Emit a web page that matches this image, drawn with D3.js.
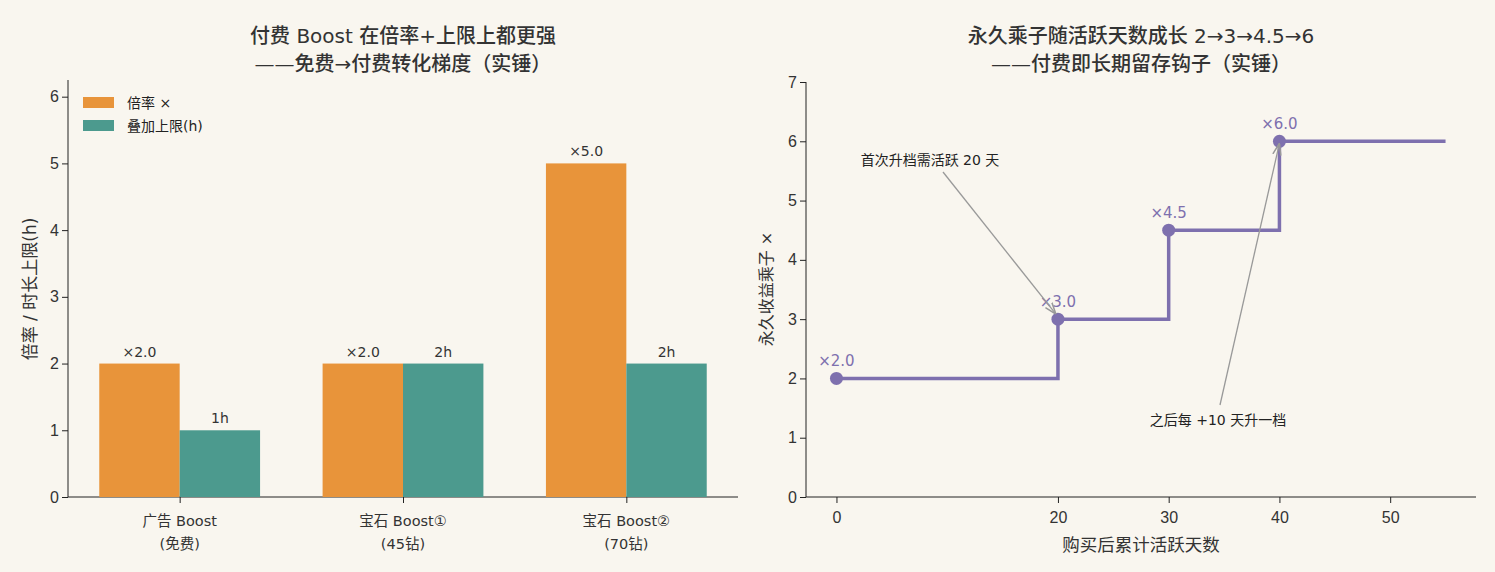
<!DOCTYPE html>
<html>
<head>
<meta charset="utf-8">
<script src="https://cdn.jsdelivr.net/npm/d3@7"></script>
<style>
  body { margin: 0; background: #f9f6ef; }
  svg { display: block; font-family: "DejaVu Sans", "Noto Sans CJK SC", sans-serif; }
  .tick text { font-size: 16px; fill: #333; }
  .tick line, .domain { stroke: #222; }
</style>
</head>
<body>
<div id="chart"></div>
<script>
// left panel data
var boostNames = ["广告 Boost\n(免费)", "宝石 Boost①\n(45钻)", "宝石 Boost②\n(70钻)"];
var multiplier = [2.0, 2.0, 5.0];
var capHours = [1, 2, 2];
var multLabels = ["×2.0", "×2.0", "×5.0"];
var capLabels = ["1h", "2h", "2h"];

// right panel data
var activeDays = [0, 20, 30, 40, 55];
var permMult = [2, 3, 4.5, 6, 6];
var markerDays = [0, 20, 30, 40];
var markerLabels = ["×2.0", "×3.0", "×4.5", "×6.0"];
var dayTicks = [0, 20, 30, 40, 50];

var orange = "#e8943a", teal = "#4c9a8e", purple = "#7e70ae", ink = "#333";

var svg = d3.select("#chart").append("svg")
  .attr("width", 1495).attr("height", 572);

svg.append("rect").attr("width", 1495).attr("height", 572).attr("fill", "#f9f6ef");

// ---------- left chart ----------
var L = {left: 68, right: 738, top: 80, bottom: 497};
var idx = d3.range(boostNames.length);
var xL = d3.scaleLinear().domain([-0.5, 2.5]).range([L.left, L.right]);
var yL = d3.scaleLinear().domain([0, 6.25]).range([L.bottom, L.top]);
var bw = 0.36;

var gL = svg.append("g");

gL.append("g").attr("transform", `translate(0,${L.bottom})`)
  .call(d3.axisBottom(xL).tickValues(idx).tickFormat("").tickSizeOuter(0))
  .call(g => g.select(".domain").attr("d", `M${L.left},0H${L.right}`));
gL.append("g").attr("transform", `translate(${L.left},0)`)
  .call(d3.axisLeft(yL).ticks(6).tickSizeOuter(0))
  .call(g => g.select(".domain").attr("d", `M0,${L.top}V${L.bottom}`));

// category labels, two lines
idx.forEach(function(i) {
  var t = gL.append("text").attr("text-anchor", "middle")
    .attr("font-size", 14.5).attr("fill", ink);
  boostNames[i].split("\n").forEach(function(s, k) {
    t.append("tspan").attr("x", xL(i)).attr("y", 526 + k * 23).text(s);
  });
});

gL.selectAll(".barM").data(idx).enter().append("rect")
  .attr("x", i => xL(i - bw))
  .attr("y", i => yL(multiplier[i]))
  .attr("width", xL(bw) - xL(0))
  .attr("height", i => yL(0) - yL(multiplier[i]))
  .attr("fill", orange);

gL.selectAll(".barC").data(idx).enter().append("rect")
  .attr("x", i => xL(i))
  .attr("y", i => yL(capHours[i]))
  .attr("width", xL(bw) - xL(0))
  .attr("height", i => yL(0) - yL(capHours[i]))
  .attr("fill", teal);

gL.selectAll(".lblM").data(idx).enter().append("text")
  .attr("x", i => xL(i - bw / 2)).attr("y", i => yL(multiplier[i]) - 7)
  .attr("text-anchor", "middle").attr("font-size", 14).attr("fill", ink)
  .text(i => multLabels[i]);
gL.selectAll(".lblC").data(idx).enter().append("text")
  .attr("x", i => xL(i + bw / 2)).attr("y", i => yL(capHours[i]) - 7)
  .attr("text-anchor", "middle").attr("font-size", 14).attr("fill", ink)
  .text(i => capLabels[i]);

// legend
[["倍率 ×", orange], ["叠加上限(h)", teal]].forEach(function(d, k) {
  gL.append("rect").attr("x", 83).attr("y", 97 + k * 23).attr("width", 31).attr("height", 11).attr("fill", d[1]);
  gL.append("text").attr("x", 127).attr("y", 108 + k * 23).attr("font-size", 14).attr("fill", "#222").text(d[0]);
});

gL.append("text").attr("transform", "translate(36,289) rotate(-90)")
  .attr("text-anchor", "middle").attr("font-size", 17).attr("fill", ink)
  .text("倍率 / 时长上限(h)");

gL.append("text").attr("x", 403).attr("y", 43).attr("text-anchor", "middle")
  .attr("font-size", 20).attr("font-weight", 500).attr("fill", ink)
  .text("付费 Boost 在倍率+上限上都更强");
gL.append("text").attr("x", 403).attr("y", 71).attr("text-anchor", "middle")
  .attr("font-size", 20).attr("font-weight", 500).attr("fill", ink)
  .text("——免费→付费转化梯度（实锤）");

// ---------- right chart ----------
var R = {left: 806, right: 1476, top: 82, bottom: 497};
var xR = d3.scaleLinear().domain([-2.75, 57.75]).range([R.left, R.right]);
var yR = d3.scaleLinear().domain([0, 7]).range([R.bottom, R.top]);

var gR = svg.append("g");
gR.append("g").attr("transform", `translate(0,${R.bottom})`)
  .call(d3.axisBottom(xR).tickValues(dayTicks).tickSizeOuter(0).tickPadding(9))
  .call(g => g.select(".domain").attr("d", `M${R.left},0H${R.right}`));
gR.append("g").attr("transform", `translate(${R.left},0)`)
  .call(d3.axisLeft(yR).ticks(7).tickSizeOuter(0))
  .call(g => g.select(".domain").attr("d", `M0,${R.top}V${R.bottom}`));

var pts = activeDays.map((d, i) => [d, permMult[i]]);
gR.append("path").datum(pts)
  .attr("d", d3.line().x(d => xR(d[0])).y(d => yR(d[1])).curve(d3.curveStepAfter))
  .attr("fill", "none").attr("stroke", purple).attr("stroke-width", 3.5);

gR.selectAll(".dot").data(markerDays).enter().append("circle")
  .attr("cx", d => xR(d)).attr("cy", (d, i) => yR(permMult[i]))
  .attr("r", 6.5).attr("fill", purple);

gR.selectAll(".dlbl").data(markerDays).enter().append("text")
  .attr("x", d => xR(d)).attr("y", (d, i) => yR(permMult[i]) - 12)
  .attr("text-anchor", "middle").attr("font-size", 15).attr("fill", purple)
  .text((d, i) => markerLabels[i]);

// annotations
svg.append("defs").append("marker").attr("id", "arr")
  .attr("viewBox", "0 0 10 10").attr("refX", 10).attr("refY", 5)
  .attr("markerWidth", 9).attr("markerHeight", 9).attr("orient", "auto")
  .append("path").attr("d", "M0,1.5L10,5L0,8.5").attr("fill", "none").attr("stroke", "#999").attr("stroke-width", 1.3);

gR.append("line").attr("x1", 943).attr("y1", 172).attr("x2", xR(20) - 2).attr("y2", yR(3) - 5)
  .attr("stroke", "#999").attr("stroke-width", 1.3).attr("marker-end", "url(#arr)");
gR.append("text").attr("x", 930).attr("y", 165).attr("text-anchor", "middle")
  .attr("font-size", 14).attr("fill", "#222").text("首次升档需活跃 20 天");

gR.append("line").attr("x1", 1220).attr("y1", 405).attr("x2", xR(40)).attr("y2", yR(6) + 2)
  .attr("stroke", "#999").attr("stroke-width", 1.3).attr("marker-end", "url(#arr)");
gR.append("text").attr("x", 1218).attr("y", 425).attr("text-anchor", "middle")
  .attr("font-size", 14).attr("fill", "#222").text("之后每 +10 天升一档");

gR.append("text").attr("transform", "translate(772,289) rotate(-90)")
  .attr("text-anchor", "middle").attr("font-size", 16).attr("fill", ink)
  .text("永久收益乘子 ×");
gR.append("text").attr("x", 1141).attr("y", 551).attr("text-anchor", "middle")
  .attr("font-size", 17.5).attr("fill", ink).text("购买后累计活跃天数");

gR.append("text").attr("x", 1141).attr("y", 43).attr("text-anchor", "middle")
  .attr("font-size", 20).attr("font-weight", 500).attr("fill", ink)
  .text("永久乘子随活跃天数成长 2→3→4.5→6");
gR.append("text").attr("x", 1141).attr("y", 71).attr("text-anchor", "middle")
  .attr("font-size", 20).attr("font-weight", 500).attr("fill", ink)
  .text("——付费即长期留存钩子（实锤）");
</script>
</body>
</html>
